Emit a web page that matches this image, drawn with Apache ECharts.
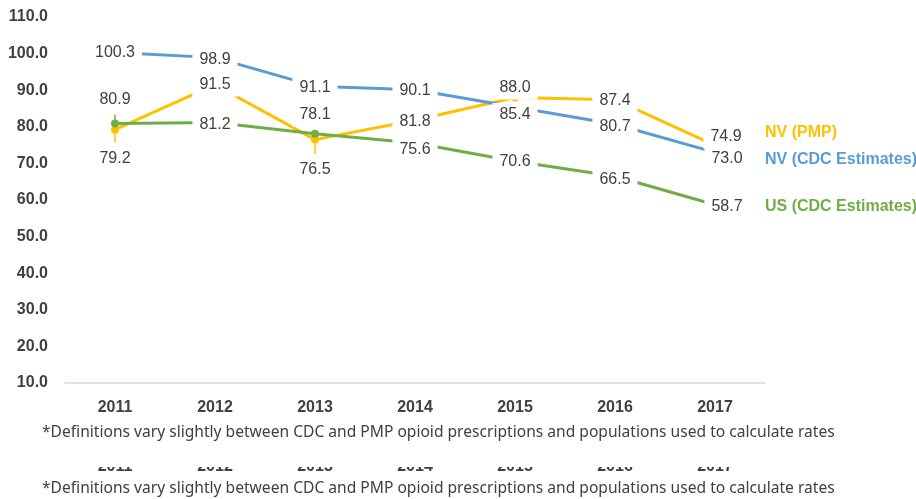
<!DOCTYPE html>
<html>
<head>
<meta charset="utf-8">
<script src="https://cdn.jsdelivr.net/npm/echarts@6/dist/echarts.min.js"></script>
<style>
html, body { margin: 0; padding: 0; background: #fff; }
#main { width: 916px; height: 499px; }
</style>
</head>
<body>
<div id="main"></div>
<script>
var years = ["2011", "2012", "2013", "2014", "2015", "2016", "2017"];
var nvPmp = [79.2, 91.5, 76.5, 81.8, 88.0, 87.4, 74.9];
var nvCdc = [100.3, 98.9, 91.1, 90.1, 85.4, 80.7, 73.0];
var usCdc = [80.9, 81.2, 78.1, 75.6, 70.6, 66.5, 58.7];
// little error ticks visible on a few points: [year index, from, to]
var pmpErr = [[0, 79.2, 75.7], [2, 76.5, 72.6]];
var usErr = [[0, 80.9, 83.3]];
var names = ["NV (PMP)", "NV (CDC Estimates)", "US (CDC Estimates)"];
var footnote = "*Definitions vary slightly between CDC and PMP opioid prescriptions and populations used to calculate rates";

// label nudges [dx, dy] for each point (px)
var pmpOff = [[0, 29], [0, 0], [0, 30], [0, 1], [0, -10], [0, 1], [11, -9]];
var cdcOff = [[0, 0], [0, 2], [0, 1], [0, 1], [0, 8], [0, 2], [12, 6]];
var usOff = [[0, -24], [0, 2], [0, -19], [0, 7], [0, 0], [0, 3], [12, 2]];
var endOff = [[0, -13], [0, 7], [0, 2]];

var colors = ["#FFC000", "#5B9BD5", "#70AD47"];
var txt = "#404040";
var font = "'Liberation Sans', Arial, sans-serif";
var noteFont = "'Noto Sans', sans-serif";

function lineSeries(i, vals) {
  return {
    name: names[i],
    type: "line",
    data: vals,
    z: 2,
    symbol: "circle",
    symbolSize: 8,
    lineStyle: { width: 3, color: colors[i] },
    itemStyle: { color: colors[i] },
    endLabel: {
      show: true,
      formatter: names[i],
      distance: 50,
      offset: endOff[i],
      color: colors[i],
      fontFamily: font,
      fontWeight: "bold",
      fontSize: 16
    }
  };
}

function labelSeries(vals, offs) {
  return {
    type: "scatter",
    z: 10,
    symbolSize: 1,
    itemStyle: { color: "rgba(0,0,0,0)", opacity: 1 },
    data: vals.map(function (v, k) {
      return { value: v, label: { offset: offs[k] } };
    }),
    label: {
      show: true,
      position: "inside",
      formatter: function (p) { return p.value.toFixed(1); },
      color: txt,
      opacity: 1,
      fontFamily: font,
      fontSize: 16,
      backgroundColor: "#fff",
      padding: [4, 7]
    }
  };
}

function errSeries(data, color) {
  return {
    type: "custom",
    z: 3,
    data: data,
    encode: { x: 0, y: [1, 2] },
    renderItem: function (params, api) {
      var a = api.coord([api.value(0), api.value(1)]);
      var b = api.coord([api.value(0), api.value(2)]);
      return {
        type: "line",
        shape: { x1: a[0], y1: a[1], x2: b[0], y2: b[1] },
        style: { stroke: color, lineWidth: 1.5 }
      };
    }
  };
}

var chart = echarts.init(document.getElementById("main"));
chart.setOption({
  animation: false,
  grid: { left: 65, right: 151, top: 17, bottom: 116 },
  xAxis: {
    type: "category",
    data: years,
    axisLine: { lineStyle: { color: "#d9d9d9", width: 1.5 } },
    axisTick: { show: false },
    axisLabel: { color: txt, fontFamily: font, fontWeight: "bold", fontSize: 16, margin: 17 }
  },
  yAxis: {
    type: "value",
    min: 10,
    max: 110,
    interval: 10,
    axisLine: { show: false },
    axisTick: { show: false },
    splitLine: { show: false },
    axisLabel: {
      color: txt, fontFamily: font, fontWeight: "bold", fontSize: 16, margin: 17,
      formatter: function (v) { return v.toFixed(1); }
    }
  },
  series: [
    lineSeries(0, nvPmp),
    lineSeries(1, nvCdc),
    lineSeries(2, usCdc),
    errSeries(pmpErr, colors[0]),
    errSeries(usErr, colors[2]),
    labelSeries(nvPmp, pmpOff),
    labelSeries(nvCdc, cdcOff),
    labelSeries(usCdc, usOff)
  ]
});

// footnote twice, plus the clipped repeat of the year labels seen in the picture
var graphics = [
  { type: "text", left: 42, top: 425, style: { text: footnote, fill: txt, font: "15.6px " + noteFont } },
  { type: "text", left: 42, top: 481, style: { text: footnote, fill: txt, font: "15.6px " + noteFont } }
];
years.forEach(function (y) {
  var x = chart.convertToPixel({ xAxisIndex: 0 }, y);
  graphics.push({
    type: "text", x: x, y: 467, z: 1,
    style: { text: y, fill: txt, font: "bold 16px " + font, align: "center", verticalAlign: "middle" }
  });
});
graphics.push({ type: "rect", shape: { x: 0, y: 445, width: 916, height: 22 }, style: { fill: "#fff" }, z: 2 });
chart.setOption({ graphic: graphics });
</script>
</body>
</html>
